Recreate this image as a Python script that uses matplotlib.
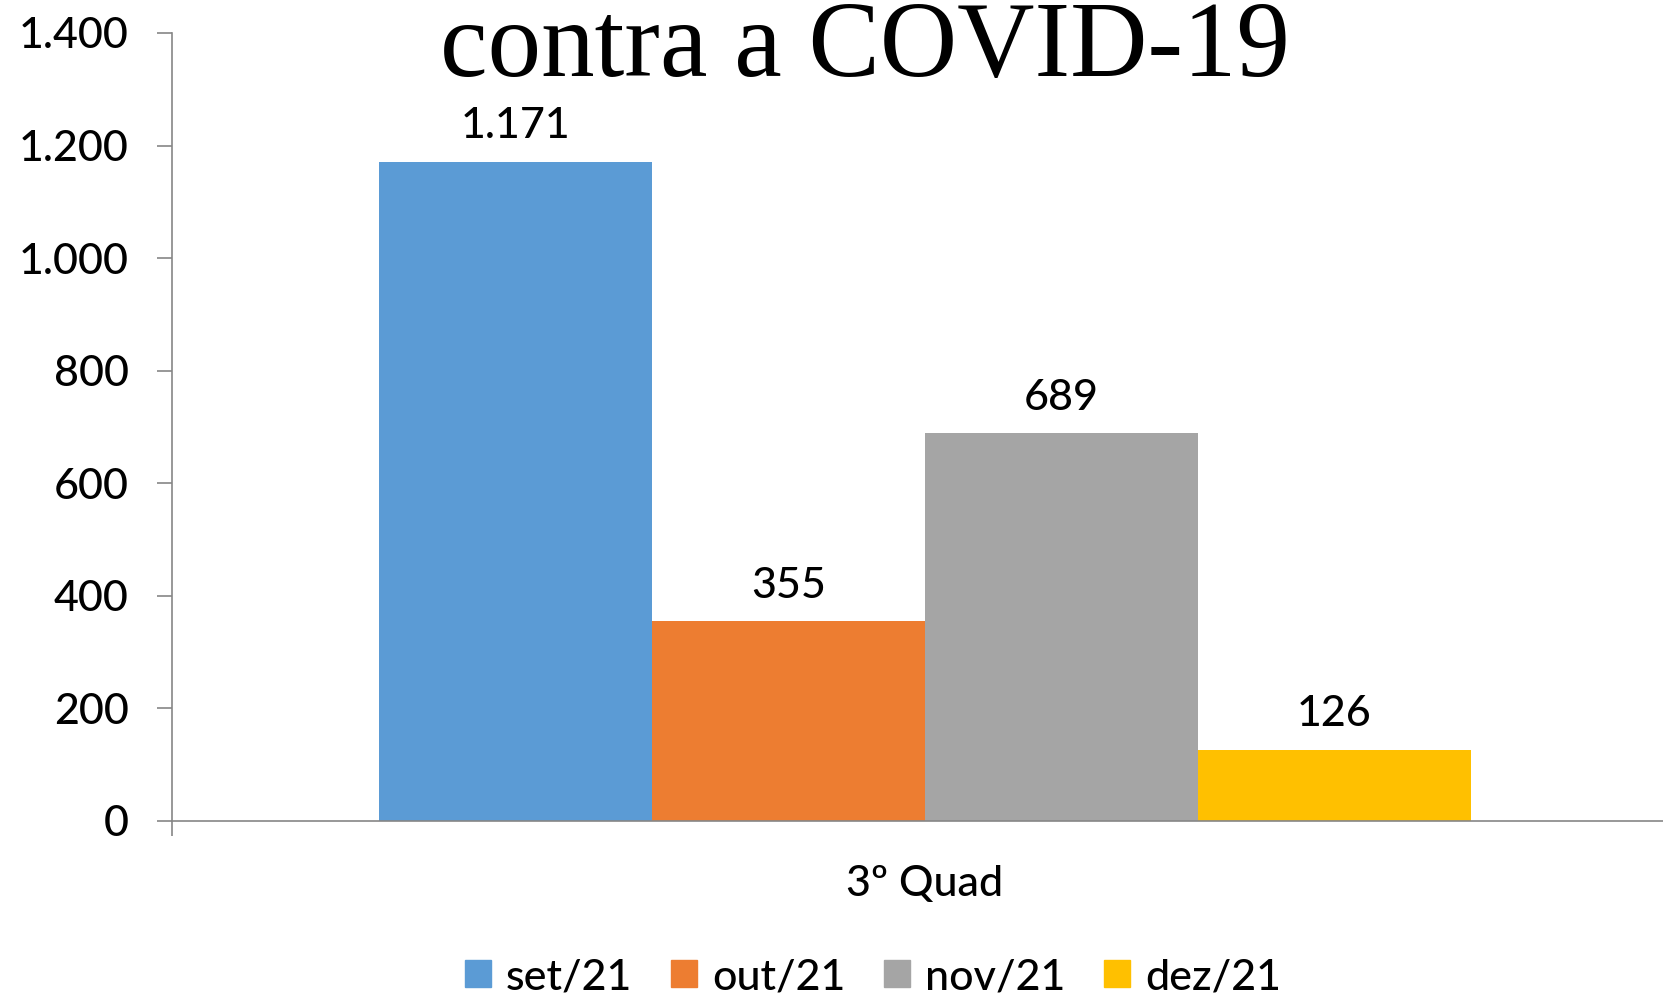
import numpy as np
import matplotlib
matplotlib.use("Agg")
import matplotlib.pyplot as plt
from matplotlib.patches import Patch
from matplotlib.ticker import FuncFormatter

# data
categories = ["3º Quad"]
months = ["set/21", "out/21", "nov/21", "dez/21"]
values = [1171, 355, 689, 126]
colors = ["#5B9BD5", "#ED7D31", "#A5A5A5", "#FFC000"]
title = "contra a COVID-19"

plt.rcParams["font.family"] = ["Lato", "DejaVu Sans"]
plt.rcParams["font.weight"] = "medium"
FS = 31
fig = plt.figure(figsize=(16.63, 9.99), dpi=100)
ax = fig.add_axes([172/1663, 1 - 821/999, 1 - 172/1663, (821 - 33)/999])

def pt_fmt(v, _):
    return f"{int(v):,}".replace(",", ".")

x = np.arange(len(categories))
w = 0.183
for i, (m, v, c) in enumerate(zip(months, values, colors)):
    b = ax.bar(x + (i - 1.5) * w, [v], w, color=c, label=m, zorder=2)
    for r in b:
        ax.annotate(pt_fmt(v, None), (r.get_x() + r.get_width()/2, r.get_height()),
                    xytext=(0, 12), textcoords="offset points", ha="center", va="bottom",
                    fontsize=FS)

ax.set_xlim(-0.505, 0.495)
ax.set_ylim(0, 1400)
ax.set_yticks(np.arange(0, 1401, 200))
ax.yaxis.set_major_formatter(FuncFormatter(pt_fmt))
ax.tick_params(axis="y", labelsize=FS, length=11, width=1.2, color="#868686", pad=20)

# category axis: edge tick at left, label at the centre
ax.set_xticks([-0.505])
ax.set_xticklabels([""])
ax.set_xticks(x, minor=True)
ax.set_xticklabels(categories, minor=True)
ax.tick_params(axis="x", which="major", length=11, width=1.2, color="#868686")
ax.tick_params(axis="x", which="minor", length=0, labelsize=FS, pad=32)

for s in ["top", "right"]:
    ax.spines[s].set_visible(False)
for s in ["left", "bottom"]:
    ax.spines[s].set_color("#868686")
    ax.spines[s].set_linewidth(1.2)

fig.text(865/1663, 1 - 76/999, title, ha="center", va="baseline",
         fontsize=77, family="Liberation Serif", weight="normal")

handles = [Patch(color=c, label=m) for m, c in zip(months, colors)]
fig.legend(handles=handles, loc="center", bbox_to_anchor=(873/1663, 1 - 977/999),
           ncol=4, frameon=False, fontsize=FS, handlelength=0.6, handleheight=0.6,
           handletextpad=0.35, columnspacing=0.9)

fig.savefig("out.png", dpi=100)
